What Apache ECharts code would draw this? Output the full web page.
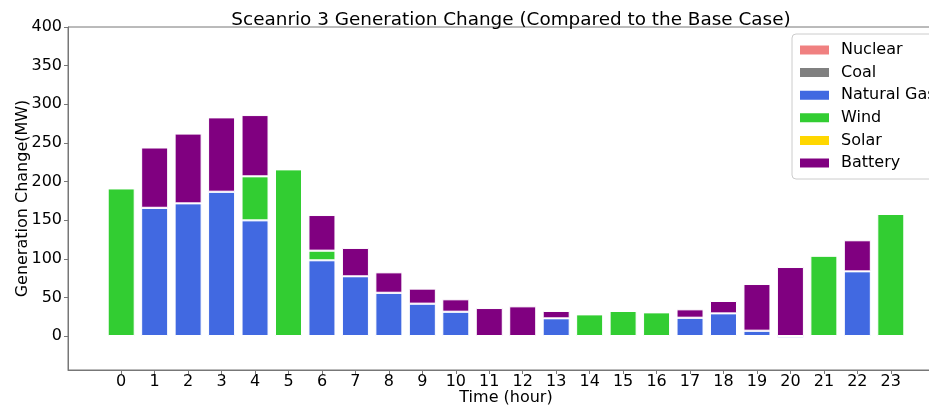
<!DOCTYPE html>
<html>
<head>
<meta charset="utf-8">
<script src="https://cdn.jsdelivr.net/npm/echarts@6/dist/echarts.min.js"></script>
<style>html,body{margin:0;padding:0;background:#fff}#c{width:929px;height:408px}</style>
</head>
<body>
<div id="c"></div>
<script>
const hours = [0,1,2,3,4,5,6,7,8,9,10,11,12,13,14,15,16,17,18,19,20,21,22,23];
const yTicks = [0,50,100,150,200,250,300,350,400];
const seriesNames = ['Nuclear','Coal','Natural Gas','Wind','Solar','Battery'];
const seriesColors = ['#F08080','#808080','#4169E1','#32CD32','#FFD700','#800080'];
const nuclear = [0,0,0,0,0,0,0,0,0,0,0,0,0,0,0,0,0,0,0,0,0,0,0,0];
const coal    = [0,0,0,0,0,0,0,0,0,0,0,0,0,0,0,0,0,0,0,0,0,0,0,0];
const gas     = [0,166,171.7,186.8,149.7,0,98,77.3,56,41.9,31.5,0,0,22.9,0,0,0,23.7,29.3,6.9,-3,0,83.7,0];
const wind    = [191,0,0,0,57,215.7,12.5,0,0,0,0,0,0,0,28,32.4,30.6,0,0,0,0,104,0,158];
const solar   = [0,0,0,0,0,0,0,0,0,0,0,0,0,0,0,0,0,0,0,0,0,0,0,0];
const battery = [0,78,90.3,96.2,79.3,0,46.1,36.7,26.4,19.4,16,36.2,38.4,9.5,0,0,0,10.8,16,60.4,89.3,0,40.2,0];
const allData = [nuclear, coal, gas, wind, solar, battery];

const font = 'DejaVu Sans';
const chart = echarts.init(document.getElementById('c'), null, {renderer:'canvas'});
chart.setOption({
  animation:false,
  textStyle:{fontFamily:font},
  title:{
    text:'Sceanrio 3 Generation Change (Compared to the Base Case)',
    left:506, top:6, textAlign:'center',
    textStyle:{fontFamily:font, fontSize:18.4, fontWeight:'normal', color:'#000'}
  },
  legend:{
    orient:'vertical', left:792, top:34,
    data:seriesNames,
    itemWidth:31, itemHeight:11, itemGap:6.6,
    padding:[8,10,8,6],
    borderColor:'#cccccc', borderWidth:1, borderRadius:4,
    backgroundColor:'#fff',
    icon:'rect',
    textStyle:{fontFamily:font, fontSize:16, color:'#000', padding:[0,0,0,6]}
  },
  grid:{left:68, top:27, width:876, height:343, outerBoundsMode:'none', containLabel:false,
        show:true, borderColor:'#777', borderWidth:1, backgroundColor:'transparent'},
  xAxis:{
    type:'value', min:-1.59, max:24.59,
    name:'Time (hour)', nameLocation:'middle', nameGap:20, nameMoveOverlap:false,
    nameTextStyle:{fontFamily:font, fontSize:16, color:'#000', verticalAlign:'top'},
    axisLine:{show:true, onZero:false, lineStyle:{color:'#777'}},
    axisTick:{show:true, customValues:hours, length:4, lineStyle:{color:'#777'}},
    axisLabel:{customValues:hours, fontFamily:font, fontSize:16, color:'#000', margin:4},
    splitLine:{show:false}
  },
  yAxis:{
    type:'value', min:-44, max:400,
    name:'Generation Change(MW)', nameLocation:'middle', nameGap:37, nameMoveOverlap:false,
    nameTextStyle:{fontFamily:font, fontSize:16, color:'#000'},
    axisLine:{show:true, onZero:false, lineStyle:{color:'#777'}},
    axisTick:{show:true, customValues:yTicks, length:4, lineStyle:{color:'#777'}},
    axisLabel:{customValues:yTicks, fontFamily:font, fontSize:16, color:'#000', margin:6},
    splitLine:{show:false}
  },
  series: seriesNames.map((n,k)=>({
    name:n, type:'bar', stack:'total', barWidth:27,
    encode:{x:1, y:0},
    itemStyle:{color:seriesColors[k], borderColor:'#fff', borderWidth:1},
    data: hours.map((h,i)=>[allData[k][i], h])
  }))
});
</script>
</body>
</html>
